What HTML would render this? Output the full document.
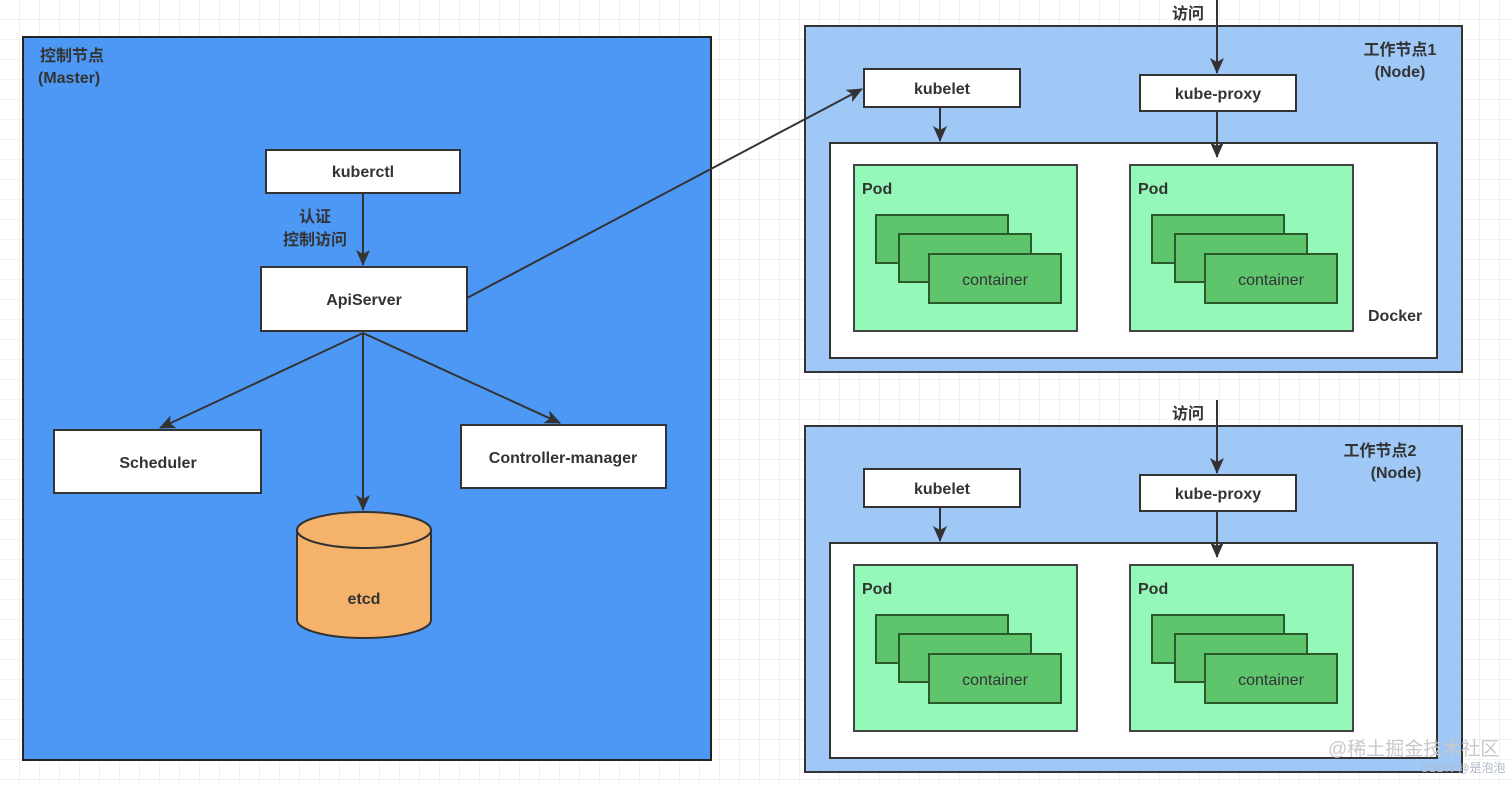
<!DOCTYPE html>
<html><head><meta charset="utf-8"><style>
body{margin:0;width:1512px;height:783px;overflow:hidden;background:#fff;}
svg text{font-family:"Liberation Sans","Noto Sans CJK SC",sans-serif;fill:#333;}
.b{font-weight:bold;font-size:16px;}
</style></head><body>
<svg width="1512" height="783" xmlns="http://www.w3.org/2000/svg">
<defs>
<pattern id="g" width="20" height="20" patternUnits="userSpaceOnUse"><path d="M20 0V20H0" fill="none" stroke="#e3e3e3" stroke-width="1"/></pattern>
<marker id="a" markerWidth="16" markerHeight="14" refX="15" refY="7" orient="auto" markerUnits="userSpaceOnUse"><path d="M0,0 L16,7 L0,14 L4,7 z" fill="#333"/></marker>
<g id="pod">
<rect x="0" y="0" width="223" height="166" fill="#94f9b8" stroke="#444" stroke-width="2"/>
<text x="8" y="29" class="b">Pod</text>
<rect x="22" y="50" width="132" height="48" fill="#5ec56d" stroke="#2a5a2a" stroke-width="2"/>
<rect x="45" y="69" width="132" height="48" fill="#5ec56d" stroke="#2a5a2a" stroke-width="2"/>
<rect x="75" y="89" width="132" height="49" fill="#5ec56d" stroke="#2a5a2a" stroke-width="2"/>
<text x="141" y="120" font-size="16" text-anchor="middle">container</text>
</g>
<g id="node">
<rect x="805" y="26" width="657" height="346" fill="#9fc8f7" stroke="#333" stroke-width="2"/>
<rect x="864" y="69" width="156" height="38" fill="#fff" stroke="#333" stroke-width="2"/>
<text x="942" y="94" class="b" text-anchor="middle">kubelet</text>
<rect x="1140" y="75" width="156" height="36" fill="#fff" stroke="#333" stroke-width="2"/>
<text x="1218" y="99" class="b" text-anchor="middle">kube-proxy</text>
<rect x="830" y="143" width="607" height="215" fill="#fff" stroke="#333" stroke-width="2"/>
<use href="#pod" x="854" y="165"/>
<use href="#pod" x="1130" y="165"/>
<line x1="940" y1="107" x2="940" y2="141" stroke="#333" stroke-width="2" marker-end="url(#a)"/>
<line x1="1217" y1="111" x2="1217" y2="157" stroke="#333" stroke-width="2" marker-end="url(#a)"/>
<line x1="1217" y1="0" x2="1217" y2="73" stroke="#333" stroke-width="2" marker-end="url(#a)"/>
<text x="1188" y="19" class="b" font-size="15" text-anchor="middle">访问</text>
</g>
</defs>
<rect width="1512" height="783" fill="url(#g)"/>
<!-- master -->
<rect x="23" y="37" width="688" height="723" fill="#4d98f4" stroke="#222" stroke-width="2"/>
<text x="40" y="61" class="b" font-size="15">控制节点</text>
<text x="38" y="83" class="b" font-size="15">(Master)</text>
<rect x="266" y="150" width="194" height="43" fill="#fff" stroke="#333" stroke-width="2"/>
<text x="363" y="177" class="b" text-anchor="middle">kuberctl</text>
<text x="315" y="222" class="b" font-size="15" text-anchor="middle">认证</text>
<text x="315" y="245" class="b" font-size="15" text-anchor="middle">控制访问</text>
<rect x="261" y="267" width="206" height="64" fill="#fff" stroke="#333" stroke-width="2"/>
<text x="364" y="305" class="b" text-anchor="middle">ApiServer</text>
<rect x="54" y="430" width="207" height="63" fill="#fff" stroke="#333" stroke-width="2"/>
<text x="158" y="468" class="b" text-anchor="middle">Scheduler</text>
<rect x="461" y="425" width="205" height="63" fill="#fff" stroke="#333" stroke-width="2"/>
<text x="563" y="463" class="b" text-anchor="middle">Controller-manager</text>
<path d="M297,530 L297,620 A67,18 0 0 0 431,620 L431,530 Z" fill="#f5b26b" stroke="#333" stroke-width="2"/>
<ellipse cx="364" cy="530" rx="67" ry="18" fill="#f5b26b" stroke="#333" stroke-width="2"/>
<text x="364" y="604" class="b" text-anchor="middle">etcd</text>
<!-- nodes -->
<use href="#node"/>
<text x="1400" y="55" class="b" font-size="15" text-anchor="middle">工作节点1</text>
<text x="1400" y="77" class="b" font-size="15" text-anchor="middle">(Node)</text>
<text x="1368" y="321" class="b">Docker</text>
<use href="#node" y="400"/>
<text x="1380" y="456" class="b" font-size="15" text-anchor="middle">工作节点2</text>
<text x="1396" y="478" class="b" font-size="15" text-anchor="middle">(Node)</text>
<g stroke="#333" stroke-width="2" fill="none">
<line x1="363" y1="193" x2="363" y2="265" marker-end="url(#a)"/>
<line x1="363" y1="333" x2="160" y2="428" marker-end="url(#a)"/>
<line x1="363" y1="333" x2="363" y2="510" marker-end="url(#a)"/>
<line x1="363" y1="333" x2="560" y2="423" marker-end="url(#a)"/>
<line x1="467" y1="298" x2="862" y2="89" marker-end="url(#a)"/>
</g>
<text x="1328" y="755" font-size="19" style="fill:#c8c8c8">@稀土掘金技术社区</text>
<text x="1420" y="772" font-size="12" style="fill:#b0b8c8">CSDN @是泡泡</text>
</svg>
</body></html>
